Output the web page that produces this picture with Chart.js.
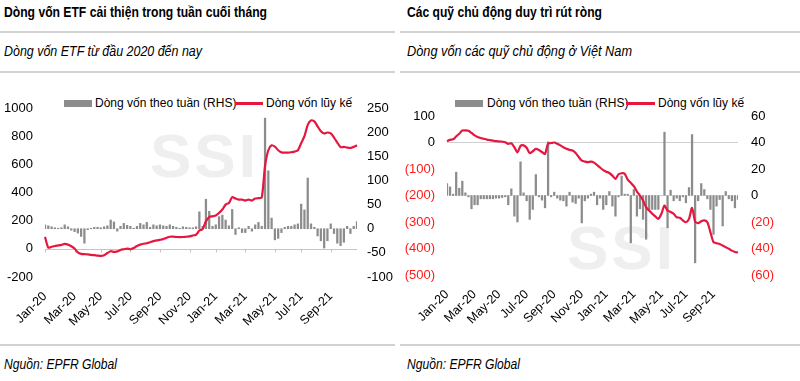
<!DOCTYPE html>
<html><head><meta charset="utf-8">
<script src="https://cdn.jsdelivr.net/npm/chart.js@4.4.1/dist/chart.umd.min.js"></script>
<style>
body{margin:0;width:800px;height:381px;background:#fff;position:relative;overflow:hidden;font-family:"Liberation Sans Narrow","Liberation Sans",Arial,sans-serif;color:#000}
.panel{position:absolute;top:0;height:381px}
.title{position:absolute;left:4px;top:3px;font-weight:bold;font-size:15px;white-space:nowrap;transform-origin:0 0}
.rule{position:absolute;left:0;right:0;height:2px;background:#d2d2d2}
.sub{position:absolute;left:4px;top:42px;font-style:italic;font-size:15px;white-space:nowrap;transform-origin:0 0}
.src{position:absolute;left:4px;top:355px;font-style:italic;font-size:15px;white-space:nowrap;transform-origin:0 0}
.wm{position:absolute;font-weight:bold;font-size:62px;line-height:62px;color:#efefef;letter-spacing:3px}
canvas{position:absolute}
.leg{position:absolute;top:96px;font-size:12px;line-height:14px;white-space:nowrap}
.sw{position:absolute}
</style></head><body>
<div class="panel" style="left:0;width:395px">
  <div class="title" data-w="263">Dòng vốn ETF cải thiện trong tuần cuối tháng</div>
  <div class="rule" style="top:31px"></div>
  <div class="sub" data-w="198">Dòng vốn ETF từ đầu 2020 đến nay</div>
  <div class="rule" style="top:71px"></div>
  <div class="wm" style="left:150px;top:125px">SSI</div>
  <div class="sw" style="left:64px;top:100px;width:28px;height:7px;background:#8c8c8c"></div>
  <div class="leg" style="left:95px">Dòng vốn theo tuần (RHS)</div>
  <div class="sw" style="left:235px;top:102px;width:28px;height:3px;background:#e5173f"></div>
  <div class="leg" style="left:266px">Dòng vốn lũy kế</div>
  <canvas id="c1" width="395" height="250" style="left:0;top:80px;width:395px;height:250px"></canvas>
  <div class="rule" style="top:344px"></div>
  <div class="src" data-w="113">Nguồn: EPFR Global</div>
</div>
<div class="panel" style="left:400px;width:400px">
  <div class="title" data-w="195" style="left:7px">Các quỹ chủ động duy trì rút ròng</div>
  <div class="rule" style="top:31px"></div>
  <div class="sub" data-w="225" style="left:7px">Dòng vốn các quỹ chủ động ở Việt Nam</div>
  <div class="rule" style="top:71px"></div>
  <div class="wm" style="left:167px;top:217px">SSI</div>
  <div class="sw" style="left:55px;top:100px;width:28px;height:7px;background:#8c8c8c"></div>
  <div class="leg" style="left:87px">Dòng vốn theo tuần (RHS)</div>
  <div class="sw" style="left:226px;top:102px;width:29px;height:3px;background:#e5173f"></div>
  <div class="leg" style="left:258px">Dòng vốn lũy kế</div>
  <canvas id="c2" width="400" height="250" style="left:0;top:80px;width:400px;height:250px"></canvas>
  <div class="rule" style="top:344px"></div>
  <div class="src" data-w="113" style="left:7px">Nguồn: EPFR Global</div>
</div>
<script>
document.querySelectorAll('[data-w]').forEach(el => {
  const w = el.getBoundingClientRect().width;
  if (w > 0) el.style.transform = 'scaleX(' + (Number(el.dataset.w) / w) + ')';
});

const weeks = [
"2020-01-03","2020-01-10","2020-01-17","2020-01-24","2020-01-31","2020-02-07","2020-02-14","2020-02-21","2020-02-28",
"2020-03-06","2020-03-13","2020-03-20","2020-03-27","2020-04-03","2020-04-10","2020-04-17","2020-04-24",
"2020-05-01","2020-05-08","2020-05-15","2020-05-22","2020-05-29","2020-06-05","2020-06-12","2020-06-19","2020-06-26",
"2020-07-03","2020-07-10","2020-07-17","2020-07-24","2020-07-31","2020-08-07","2020-08-14","2020-08-21","2020-08-28",
"2020-09-04","2020-09-11","2020-09-18","2020-09-25","2020-10-02","2020-10-09","2020-10-16","2020-10-23","2020-10-30",
"2020-11-06","2020-11-13","2020-11-20","2020-11-27","2020-12-04","2020-12-11","2020-12-18","2020-12-25",
"2021-01-01","2021-01-08","2021-01-15","2021-01-22","2021-01-29","2021-02-05","2021-02-12","2021-02-19","2021-02-26",
"2021-03-05","2021-03-12","2021-03-19","2021-03-26","2021-04-02","2021-04-09","2021-04-16","2021-04-23","2021-04-30",
"2021-05-07","2021-05-14","2021-05-21","2021-05-28","2021-06-04","2021-06-11","2021-06-18","2021-06-25",
"2021-07-02","2021-07-09","2021-07-16","2021-07-23","2021-07-30","2021-08-06","2021-08-13","2021-08-20","2021-08-27",
"2021-09-03","2021-09-10","2021-09-17","2021-09-24","2021-10-01","2021-10-08","2021-10-15","2021-10-22","2021-10-29"];
const tickWeekIdx = [0,9,17,26,35,44,52,61,70,78,87];
const tickText = ["Jan-20","Mar-20","May-20","Jul-20","Sep-20","Nov-20","Jan-21","Mar-21","May-21","Jul-21","Sep-21"];

// Left chart: ETF flows
const etfWeekly = [8,6,4,2,1,2,8,4,-3,-6,
-9,-16,-30,-2,1,3,3,2,4,6,
18,14,-5,5,11,7,5,1,5,11,
8,13,3,8,6,8,6,5,8,5,
3,1,4,3,2,2,4,35,5,61,
36,5,8,25,28,18,6,40,-12,2,
-8,-8,5,-5,8,13,5,229,120,22,
-23,-20,-8,3,5,5,8,10,51,39,
105,10,3,-15,-25,-40,-25,10,-10,-30,
-35,-28,5,-10,5,15];
const etfCumulative = [85,8,15,20,24,28,35,30,18,2,
-25,-36,-38,-40,-43,-45,-48,-50,-45,-30,
-17,-22,-18,-8,-3,2,-3,6,20,30,
36,40,47,55,60,64,69,78,86,86,
84,83,84,86,88,95,100,130,140,195,
226,231,236,255,279,314,326,367,357,350,
350,343,350,343,357,360,364,588,700,735,
725,700,685,683,683,686,690,700,750,800,
880,912,905,870,835,819,826,819,790,755,
722,724,719,716,724,736];

// Right chart: active funds
const activeWeekly = [9,6.5,1,17.6,5.5,10.8,2,-1,-10,-7,
-7,-2.5,-2.5,-2.5,-2.5,-2.5,-2,-2,-1.5,-1,
-7,5,-15.6,-20,25.4,2,-4,-18,-10.5,15.8,
-1,-3.5,-9.3,40.5,-1,2.5,-2,-3.5,-4,-8,
2.5,-5,-6,-2,-20.7,-4,-2,1,2.5,-7,
-2,-10.5,-7,3,-8,-15.6,-1,14.6,1,1,
-35.7,4.5,-15.6,-10,-18,-33,-10.5,-10.5,-10.5,-10.5,
0,47.8,-24.4,4,-4,-2,-4,-1,-5.5,6,
46,-50.8,-4,9,4.5,-2.5,-10.5,-29.4,-8,-3,
-23,3,-2.5,-4,-9.3,-3];
const activeCumulative = [5,10,12,23,33,45,46,44,36,27,
21,17,14,11,9,7,5,4,3,1,
-5,-3,-18,-37,-13,-11,-20,-40,-33,-24,
-28,-36,-43,-4,-2,0,-5,-11,-18,-24,
-28,-30,-40,-55,-68,-72,-74,-72,-76,-85,
-95,-104,-110,-115,-125,-137,-120,-116,-118,-140,
-152,-165,-185,-200,-219,-244,-257,-269,-279,-288,
-269,-238,-257,-262,-269,-282,-284,-294,-301,-288,
-247,-298,-304,-297,-294,-301,-339,-376,-380,-383,
-389,-395,-401,-408,-413,-415];

const RED = '#e5173f', BAR = '#8c8c8c', AXIS = '#c4c4c4';
const FF = '"Liberation Sans Narrow","Liberation Sans",Arial,sans-serif';
Chart.defaults.font.family = FF;
Chart.defaults.color = '#000';
Chart.defaults.animation = false;

const zeroLine = {
  id: 'zeroLine',
  beforeDatasetsDraw(chart, args, o) {
    const ctx = chart.ctx, ys = chart.scales[o.axis], xs = chart.scales.x;
    const y = Math.round(ys.getPixelForValue(0)) + 0.5;
    const {left, right} = chart.chartArea;
    ctx.save();
    ctx.strokeStyle = o.color; ctx.lineWidth = 1;
    ctx.beginPath(); ctx.moveTo(left, y); ctx.lineTo(right, y);
    if (o.tick) tickWeekIdx.forEach(i => { const x = Math.round(xs.getPixelForValue(i)) + 0.5; ctx.moveTo(x, y); ctx.lineTo(x, y + o.tick); });
    ctx.stroke(); ctx.restore();
  }
};

function xScale(h, pad) {
  return {
    type: 'category', offset: false,
    grid: {display: false, drawTicks: false}, border: {display: false},
    ticks: {autoSkip: false, maxRotation: 45, minRotation: 45, padding: pad, font: {size: 12.5},
      callback: (v, i) => { const k = tickWeekIdx.indexOf(i); return k >= 0 ? tickText[k] : ''; }},
    afterFit: s => { s.height = h; }
  };
}
function yScale(pos, min, max, step, w, pad, fmt, color) {
  return {
    position: pos, min, max,
    grid: {display: false, drawTicks: false}, border: {display: false},
    ticks: {stepSize: step, padding: pad, font: {size: 13}, callback: fmt || (v => v), color: color || '#000'},
    afterFit: s => { s.width = w; }
  };
}

new Chart(document.getElementById('c1'), {
  data: {
    labels: weeks,
    datasets: [
      {type: 'bar', label: 'Dòng vốn theo tuần (RHS)', data: etfWeekly, yAxisID: 'yR', backgroundColor: BAR, barThickness: 1.6, order: 2},
      {type: 'line', label: 'Dòng vốn lũy kế', data: etfCumulative, yAxisID: 'yL', borderColor: RED, borderWidth: 2.2, pointRadius: 0, tension: 0.25, order: 1}
    ]
  },
  options: {
    responsive: false, maintainAspectRatio: false,
    layout: {padding: {top: 28, left: 0, right: 0, bottom: 0}},
    plugins: {legend: {display: false}, tooltip: {enabled: false}, zeroLine: {axis: 'yL', color: AXIS, tick: 3}},
    scales: {
      x: xScale(53, 12),
      yL: yScale('left', -200, 1000, 200, 45, 12),
      yR: yScale('right', -100, 250, 50, 38, 10)
    }
  },
  plugins: [zeroLine]
});

const paren = v => v < 0 ? '(' + Math.abs(v) + ')' : String(v);
const negRed = c => c.tick && c.tick.value < 0 ? '#ff1a1a' : '#000';
new Chart(document.getElementById('c2'), {
  data: {
    labels: weeks,
    datasets: [
      {type: 'bar', label: 'Dòng vốn theo tuần (RHS)', data: activeWeekly, yAxisID: 'yR', backgroundColor: BAR, barThickness: 1.6, order: 2},
      {type: 'line', label: 'Dòng vốn lũy kế', data: activeCumulative, yAxisID: 'yL', borderColor: RED, borderWidth: 2.2, pointRadius: 0, tension: 0.25, order: 1}
    ]
  },
  options: {
    responsive: false, maintainAspectRatio: false,
    layout: {padding: {top: 36, left: 0, right: 0, bottom: 0}},
    plugins: {legend: {display: false}, tooltip: {enabled: false}, zeroLine: {axis: 'yL', color: '#d0d0d0', tick: 0}},
    scales: {
      x: xScale(55, 12),
      yL: yScale('left', -500, 100, 100, 47, 12, paren, negRed),
      yR: yScale('right', -60, 60, 20, 62, 13, paren, negRed)
    }
  },
  plugins: [zeroLine]
});
</script>
</body></html>
